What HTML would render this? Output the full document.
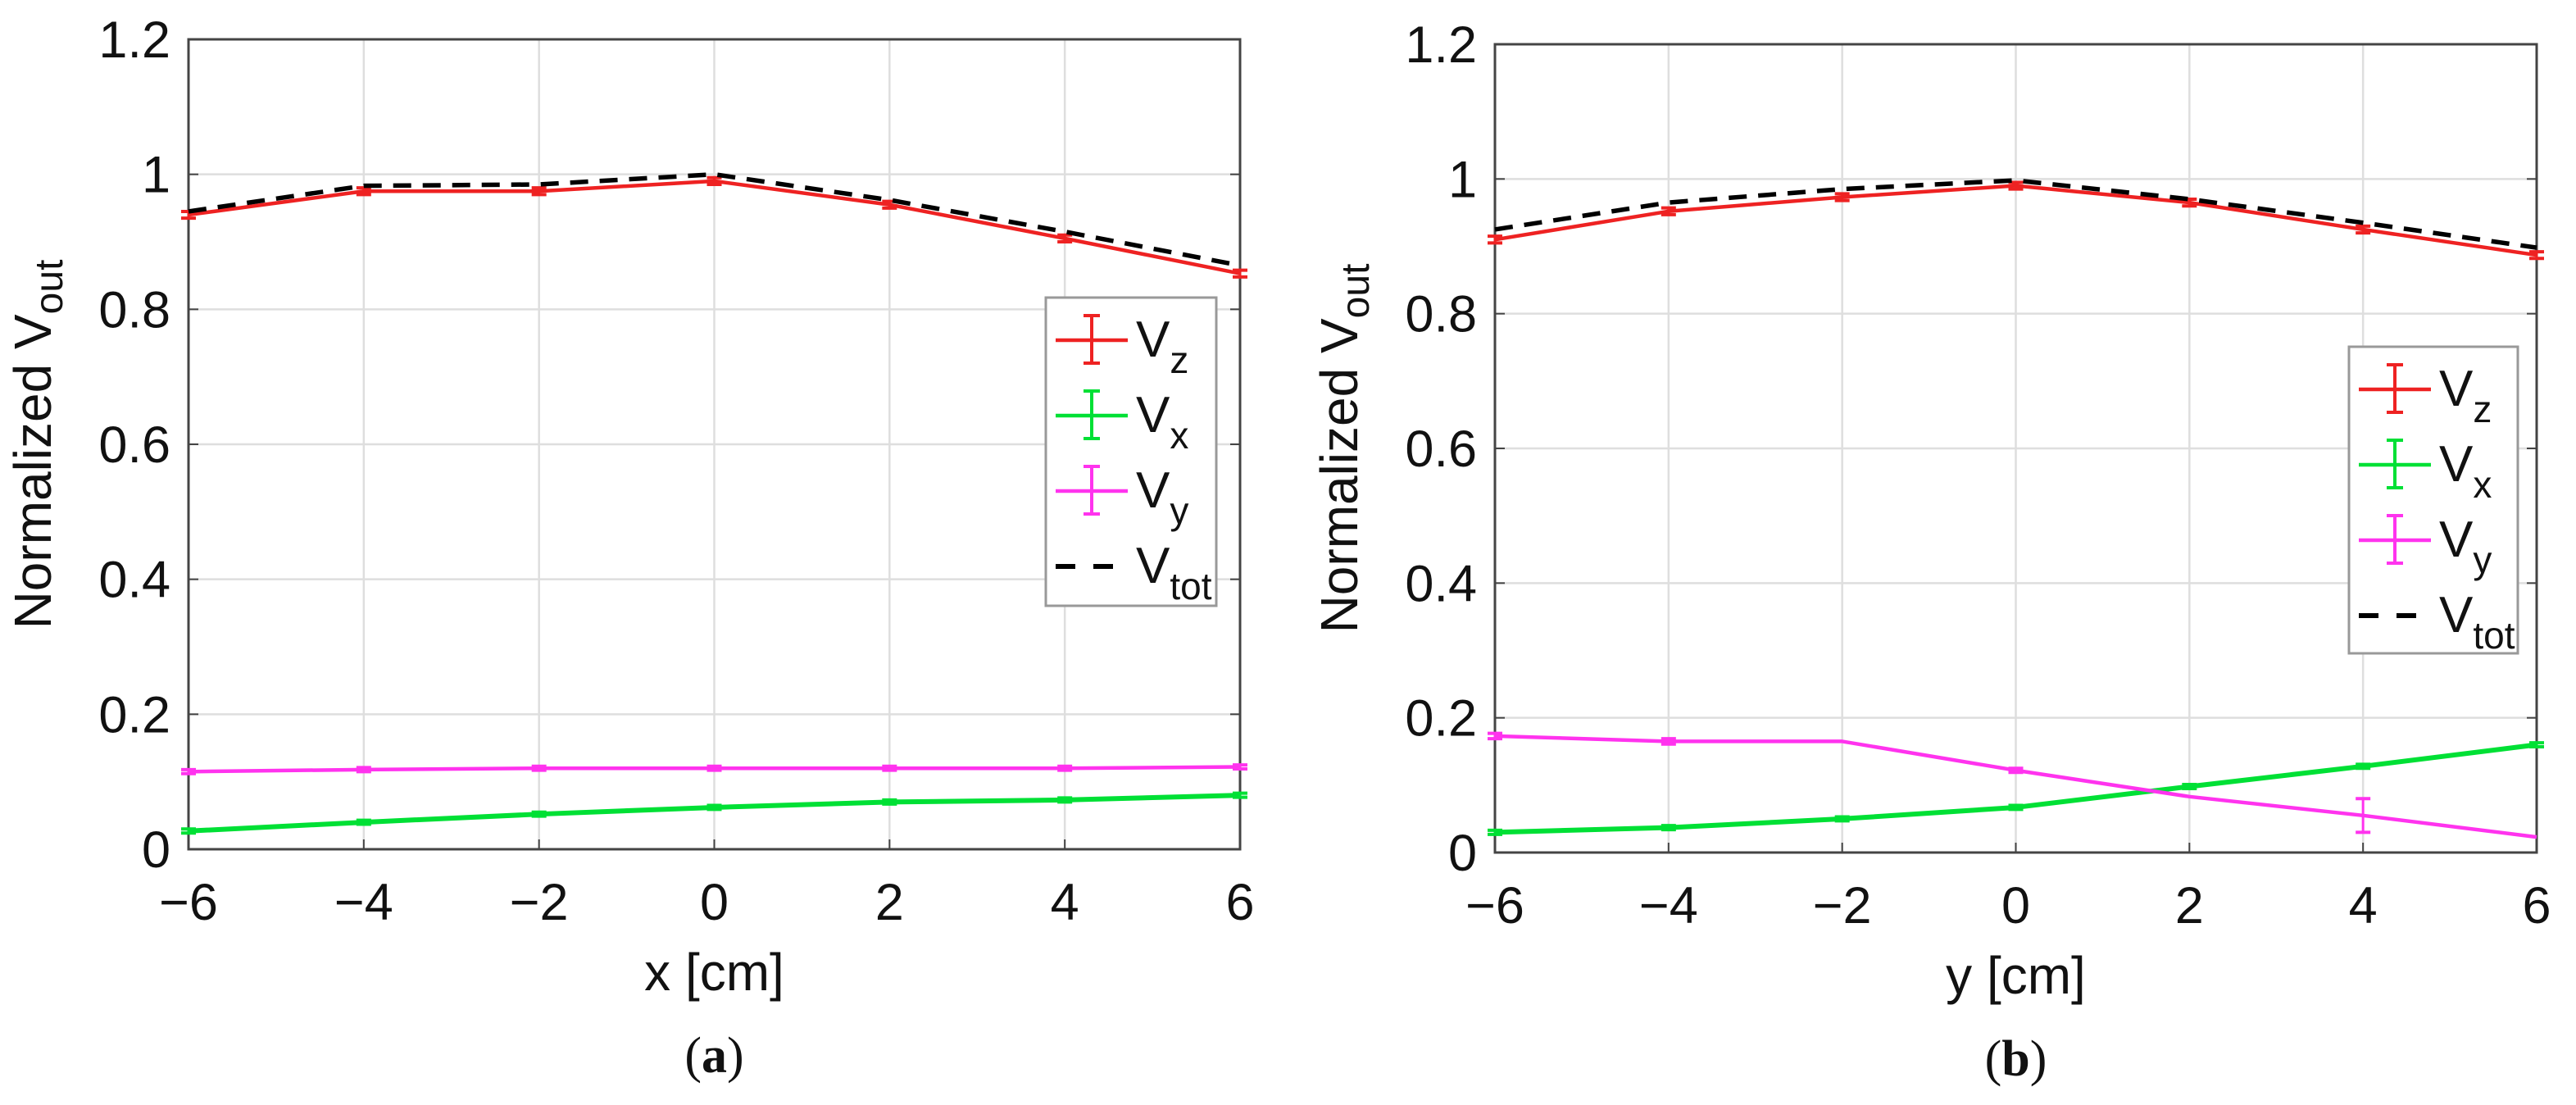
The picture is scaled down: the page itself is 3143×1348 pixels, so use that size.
<!DOCTYPE html>
<html><head><meta charset="utf-8"><style>
html,body{margin:0;padding:0;background:#fff}
svg{display:block;font-family:"Liberation Sans",sans-serif}
</style></head><body>
<svg id="chart" width="3143" height="1348" viewBox="0 0 3143 1348" xmlns="http://www.w3.org/2000/svg"></svg>
<script>
const xCats=[-6,-4,-2,0,2,4,6];
const yTicks=[0,0.2,0.4,0.6,0.8,1,1.2];
const yTickLabels=["0","0.2","0.4","0.6","0.8","1","1.2"];
const xTickLabels=["\u22126","\u22124","\u22122","0","2","4","6"];
const aVz=[0.94,0.975,0.975,0.99,0.955,0.905,0.853];
const aVtot=[0.945,0.983,0.985,1.0,0.962,0.915,0.865];
const aVy=[0.115,0.118,0.12,0.12,0.12,0.12,0.122];
const aVx=[0.027,0.04,0.052,0.062,0.07,0.073,0.08];
const bVz=[0.91,0.952,0.973,0.99,0.965,0.925,0.887];
const bVtot=[0.925,0.965,0.985,0.998,0.97,0.935,0.898];
const bVy=[0.173,0.165,0.165,0.122,0.083,0.055,0.023];
const bVyErr=[0.004,0.004,0,0.003,0,0.025,0];
const bVx=[0.03,0.037,0.05,0.067,0.098,0.128,0.16];

const NS="http://www.w3.org/2000/svg";
const svg=document.getElementById('chart');
function el(tag,attrs,parent){const e=document.createElementNS(NS,tag);for(const k in attrs)e.setAttribute(k,attrs[k]);(parent||svg).appendChild(e);return e;}

function panel(opt){
  const g=el('g',{});
  
  
  const X=v=>opt.x0+(v-(-6))/12*(opt.x1-opt.x0);
  const Y=v=>opt.y0-(v/1.2)*(opt.y0-opt.y1);
  xCats.forEach(v=>{const l=el('line',{x1:X(v),x2:X(v),y1:opt.y1,y2:opt.y0,stroke:'#dedede','stroke-width':2.5},g);
    });
  yTicks.forEach(v=>{const l=el('line',{x1:opt.x0,x2:opt.x1,y1:Y(v),y2:Y(v),stroke:'#dedede','stroke-width':2.5},g);
    });
  const fr=el('rect',{x:opt.x0,y:opt.y1,width:opt.x1-opt.x0,height:opt.y0-opt.y1,fill:'none',stroke:'#444','stroke-width':3},g);
  
  yTicks.forEach((v,i)=>{
    el('line',{x1:opt.x0,x2:opt.x0+12,y1:Y(v),y2:Y(v),stroke:'#444','stroke-width':2},g);
    el('line',{x1:opt.x1,x2:opt.x1-12,y1:Y(v),y2:Y(v),stroke:'#444','stroke-width':2},g);
    const t=el('text',{x:opt.x0-22,y:Y(v)+22,'text-anchor':'end','font-size':63,fill:'#111'},g);
    t.textContent=yTickLabels[i];
    
  });
  xCats.forEach((v,i)=>{
    el('line',{x1:X(v),x2:X(v),y1:opt.y0,y2:opt.y0-12,stroke:'#444','stroke-width':2},g);
    const t=el('text',{x:X(v),y:opt.y0+86,'text-anchor':'middle','font-size':63,fill:'#111'},g);
    t.textContent=xTickLabels[i];
    
  });
  const yl=el('text',{transform:`translate(${opt.x0-168},${(opt.y0+opt.y1)/2}) rotate(-90)`,'text-anchor':'middle','font-size':64,fill:'#111'},g);
  yl.innerHTML='Normalized V<tspan font-size="48" dy="14">out</tspan>';
  
  const xl=el('text',{x:(opt.x0+opt.x1)/2,y:opt.y0+172,'text-anchor':'middle','font-size':64,fill:'#111'},g);
  xl.textContent=opt.xlabel;
  
  const cap=el('text',{x:(opt.x0+opt.x1)/2,y:opt.y0+272,'text-anchor':'middle','font-size':62,fill:'#111','font-family':'Liberation Serif, serif'},g);
  cap.innerHTML='(<tspan font-weight="bold">'+opt.letter+'</tspan>)';
  

  function series(vals,color,name,dash,errs,w){
    const pts=vals.map((v,i)=>X(xCats[i])+','+Y(v)).join(' ');
    const p=el('polyline',{points:pts,fill:'none',stroke:color,'stroke-width':w,'stroke-dasharray':dash?'22,14':'none','stroke-linejoin':'round'},g);
    
    if(errs){vals.forEach((v,i)=>{const e=errs[i];if(e<=0)return;
      const x=X(xCats[i]);
      el('line',{x1:x,x2:x,y1:Y(v-e),y2:Y(v+e),stroke:color,'stroke-width':3},g);
      el('line',{x1:x-9,x2:x+9,y1:Y(v-e),y2:Y(v-e),stroke:color,'stroke-width':4},g);
      el('line',{x1:x-9,x2:x+9,y1:Y(v+e),y2:Y(v+e),stroke:color,'stroke-width':4},g);
    });}
  }
  series(opt.vx,'#00e035','series-vx',false,opt.vx.map(()=>0.003),6);
  series(opt.vy,'#ff33ee','series-vy',false,opt.vyErr||opt.vy.map(()=>0.003),4.5);
  series(opt.vz,'#ee2222','series-vz',false,opt.vz.map(()=>0.005),4.5);
  series(opt.vtot,'#000','series-vtot',true,null,5.5);

  const L=opt.leg;
  const lg=el('g',{},g);
  
  el('rect',{x:L.x,y:L.y,width:L.w,height:L.h,fill:'#fff',stroke:'#999','stroke-width':3},lg);
  const items=[['#ee2222','z',false],['#00e035','x',false],['#ff33ee','y',false],['#000','tot',true]];
  items.forEach((it,i)=>{
    const cy=L.y+52+i*92;
    const ent=el('g',{},lg);
    
    if(it[2]){el('line',{x1:L.x+12,x2:L.x+100,y1:cy,y2:cy,stroke:'#000','stroke-width':6,'stroke-dasharray':'24,22'},ent);}
    else{
      el('line',{x1:L.x+12,x2:L.x+100,y1:cy,y2:cy,stroke:it[0],'stroke-width':4.5},ent);
      el('line',{x1:L.x+56,x2:L.x+56,y1:cy-30,y2:cy+28,stroke:it[0],'stroke-width':4},ent);
      el('line',{x1:L.x+46,x2:L.x+66,y1:cy-30,y2:cy-30,stroke:it[0],'stroke-width':4},ent);
      el('line',{x1:L.x+46,x2:L.x+66,y1:cy+28,y2:cy+28,stroke:it[0],'stroke-width':4},ent);
    }
    const t=el('text',{x:L.x+110,y:cy+20,'font-size':62,fill:'#111'},ent);
    t.innerHTML='V<tspan font-size="46" dy="20">'+it[1]+'</tspan>';
  });
}
panel({name:'panel-a',x0:230,x1:1513,y0:1036,y1:48,xlabel:'x [cm]',letter:'a',vz:aVz,vtot:aVtot,vy:aVy,vx:aVx,leg:{x:1276,y:363,w:208,h:376}});
panel({name:'panel-b',x0:1824,x1:3095,y0:1040,y1:54,xlabel:'y [cm]',letter:'b',vz:bVz,vtot:bVtot,vy:bVy,vyErr:bVyErr,vx:bVx,leg:{x:2866,y:423,w:206,h:374}});
</script>
</body></html>
